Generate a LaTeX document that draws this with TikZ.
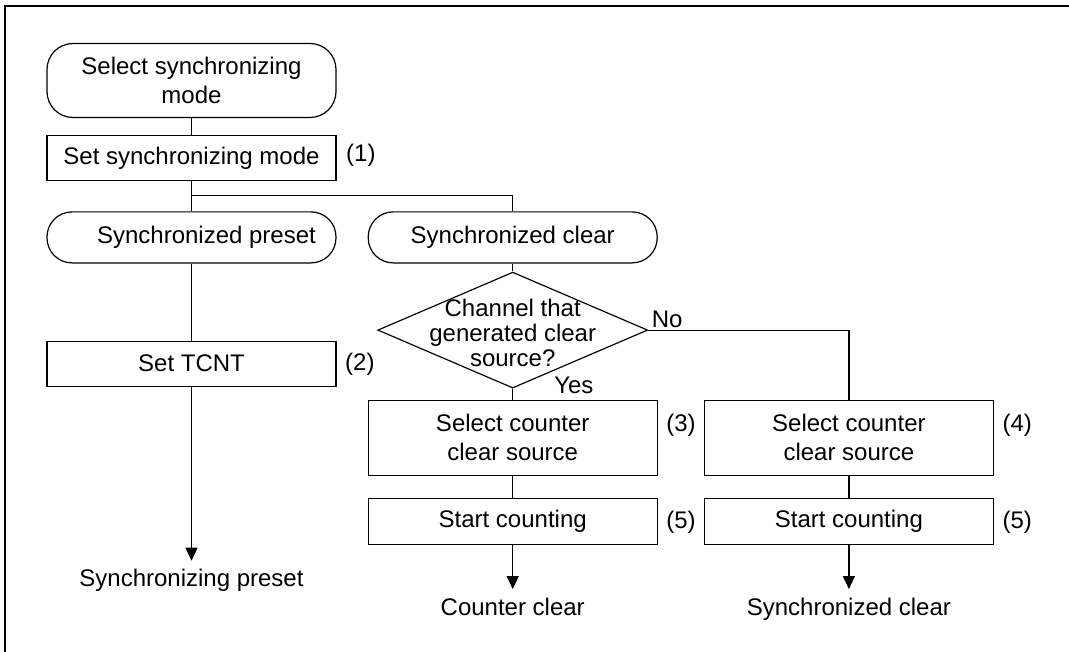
\documentclass[tikz,border=0pt]{standalone}
\usepackage{fontspec}
\setmainfont{Liberation Sans}
\usetikzlibrary{arrows.meta,positioning,shapes.geometric}

\begin{document}
\begin{tikzpicture}[
    x=0.5pt, y=-0.5pt,
    line width=0.6pt,
    node distance=15pt and 15.5pt,
    txt/.style={font=\fontsize{12}{14.5}\selectfont},
    term/.style={txt, draw, rounded corners=12.5pt, align=center, minimum width=144.5pt, minimum height=25.5pt},
    box/.style={txt, draw, align=center, minimum width=144.5pt, minimum height=22.5pt},
    tallbox/.style={box, minimum height=37.5pt},
    decision/.style={txt, draw, diamond, inner sep=0pt, minimum width=135pt, minimum height=58pt},
    num/.style={txt, anchor=west, inner sep=0pt},
    yesno/.style={txt, anchor=base west, inner sep=0pt},
    endtext/.style={txt, inner sep=4pt},
    arrow/.style={-{Triangle[length=6.5pt, width=6pt]}}
]
\useasboundingbox (0,0) rectangle (1069,652);
\draw[line width=1pt] (4.5,652) -- (4.5,6) -- (1069,6);

\node[term, minimum height=37pt, rounded corners=13pt] (start) at (191.5,80.5) {Select synchronizing\\mode};
\node[box, below=8.5pt of start] (setmode) {Set synchronizing mode};
\node[term, below=of setmode] (preset) {\hspace*{15pt}Synchronized preset};
\node[term, right=of preset] (clear) {Synchronized clear};
\node[decision, below=4pt of clear] (decide)
    {\makebox[0pt]{\smash{\raisebox{-6pt}{\fontsize{12}{12.5}\selectfont
     \begin{tabular}[c]{@{}c@{}}Channel that\\generated clear\\source?\end{tabular}}}}};
\node[box, below=38.5pt of preset] (tcnt) {Set TCNT};
\node[tallbox, below=5.5pt of decide] (sel3) {Select counter\\clear source};
\node[tallbox, right=23pt of sel3] (sel4) {Select counter\\clear source};
\node[box, below=11pt of sel3, minimum height=23pt] (cnt3) {Start counting};
\node[box, below=11pt of sel4, minimum height=23pt] (cnt4) {Start counting};
\node[endtext, below=87pt of tcnt] (endpre) {Synchronizing preset};
\node[endtext, below=22pt of cnt3] (end3) {Counter clear};
\node[endtext, below=22pt of cnt4] (end4) {Synchronized clear};

% step numbers
\node[num] (n1) at ([shift={(4.5pt,-10pt)}]setmode.north east) {(1)};
\node[num] (n2) at ([shift={(4pt,-12pt)}]tcnt.north east) {(2)};
\node[num] (n3) at ([shift={(4pt,-13pt)}]sel3.north east) {(3)};
\node[num] (n4) at ([shift={(4pt,-13pt)}]sel4.north east) {(4)};
\node[num] (n5a) at ([shift={(4pt,-12pt)}]cnt3.north east) {(5)};
\node[num] (n5b) at ([shift={(4pt,-12pt)}]cnt4.north east) {(5)};
\node[yesno] (yes) at ([shift={(20.5pt,-2.5pt)}]decide.south) {Yes};
\node[yesno] (no) at ([shift={(1.5pt,1.5pt)}]decide.east) {No};

\coordinate (split) at ([yshift=-7pt]setmode.south);
\draw (start) -- (setmode);
\draw (setmode) -- (preset);
\draw (split) -| (clear);
\draw (preset) -- (tcnt);
\draw (clear) -- (decide);
\draw (decide) -- (sel3);
\draw (decide.east) -| (sel4);
\draw (sel3) -- (cnt3);
\draw (sel4) -- (cnt4);
\draw[arrow] (tcnt) -- (endpre);
\draw[arrow] (cnt3) -- (end3);
\draw[arrow] (cnt4) -- (end4);
\end{tikzpicture}
\end{document}
